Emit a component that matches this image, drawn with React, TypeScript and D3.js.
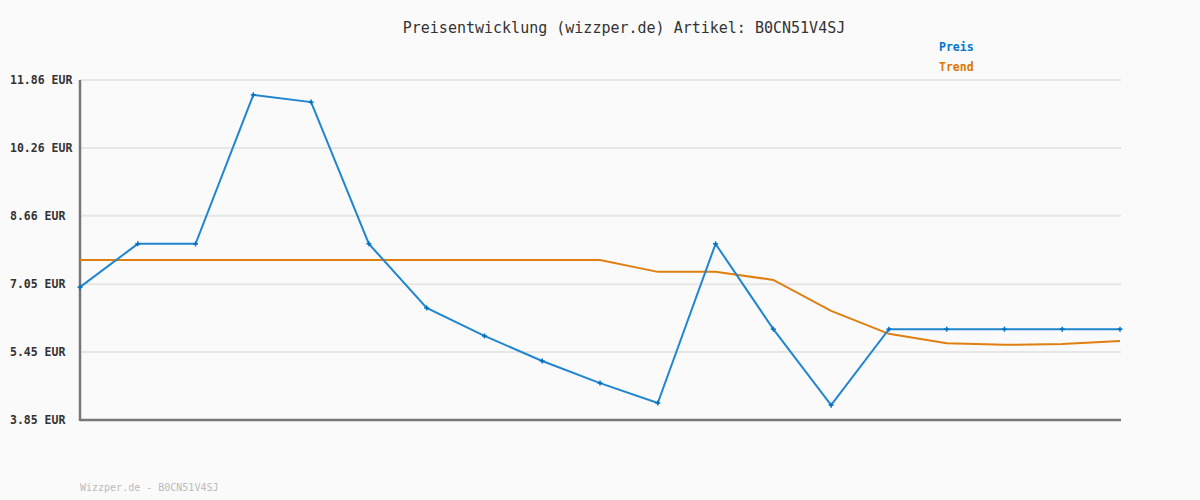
import React from "react";
import * as d3 from "d3";

const yTicks = [3.85, 5.45, 7.05, 8.66, 10.26, 11.86];
const priceValues = [6.98, 8.0, 8.0, 11.51, 11.34, 8.0, 6.49, 5.83, 5.24, 4.72, 4.25, 8.0, 5.99, 4.2, 5.99, 5.99, 5.99, 5.99, 5.99];
const trendValues = [7.62, 7.62, 7.62, 7.62, 7.62, 7.62, 7.62, 7.62, 7.62, 7.62, 7.34, 7.34, 7.15, 6.42, 5.88, 5.66, 5.62, 5.64, 5.71];
const title = "Preisentwicklung (wizzper.de) Artikel: B0CN51V4SJ";
const footer = "Wizzper.de - B0CN51V4SJ";

const W = 1200, H = 500;
const left = 80, right = 1121, top = 80, bottom = 420;
const mono = "'DejaVu Sans Mono', monospace";

export default function App() {
  const x = d3.scaleLinear().domain([0, priceValues.length - 1]).range([left, right - 1]);
  const y = d3.scaleLinear().domain([3.85, 11.86]).range([bottom, top]);
  const line = d3.line<number>().x((_, i) => x(i)).y((d) => y(d));
  return (
    <svg width={W} height={H} style={{ position: "absolute", left: 0, top: 0, background: "#fafafa" }}>
      <rect x={0} y={0} width={W} height={H} fill="#fafafa" />
      <text x={624} y={33} textAnchor="middle" fontFamily={mono} fontSize={15} fill="#333">{title}</text>
      <text x={939} y={51} fontFamily={mono} fontSize={11.5} fontWeight="bold" fill="#0077cc">Preis</text>
      <text x={939} y={71} fontFamily={mono} fontSize={11.5} fontWeight="bold" fill="#dd7700">Trend</text>
      {yTicks.map((t) => (
        <g key={t}>
          <line x1={left} x2={right} y1={y(t)} y2={y(t)} stroke="#e6e6e6" strokeWidth={2} />
          <text x={10} y={y(t) + 4} fontFamily={mono} fontSize={11.5} fontWeight="bold" fill="#333">
            {t.toFixed(2) + " EUR"}
          </text>
        </g>
      ))}
      <line x1={left} x2={left} y1={top} y2={bottom + 1} stroke="#777" strokeWidth={2.5} />
      <line x1={left} x2={right} y1={bottom} y2={bottom} stroke="#777" strokeWidth={2.5} />
      <path d={line(trendValues) || ""} fill="none" stroke="#e07f10" strokeWidth={2} />
      <path d={line(priceValues) || ""} fill="none" stroke="#1f86cf" strokeWidth={2} />
      {priceValues.map((v, i) => (
        <g key={i} stroke="#0070c0" strokeWidth={1.5}>
          <line x1={x(i) - 2.5} x2={x(i) + 2.5} y1={y(v)} y2={y(v)} />
          <line x1={x(i)} x2={x(i)} y1={y(v) - 2.5} y2={y(v) + 2.5} />
        </g>
      ))}
      <text x={80} y={491} fontFamily={mono} fontSize={10} fill="#bbb">{footer}</text>
    </svg>
  );
}
